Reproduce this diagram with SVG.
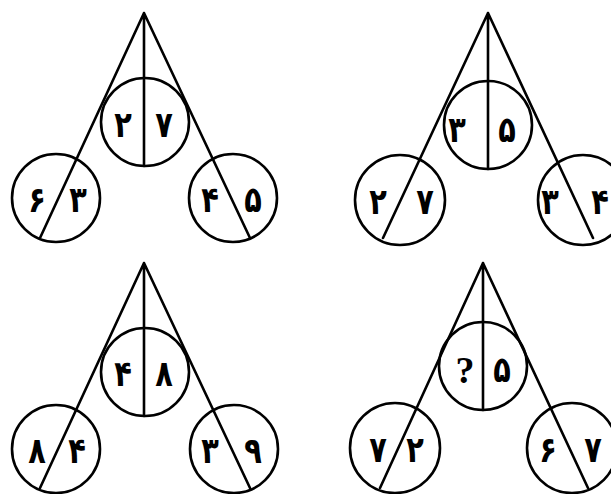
<svg xmlns="http://www.w3.org/2000/svg" width="611" height="494" viewBox="0 0 611 494">
<style>
.n{fill:none;stroke:#000;stroke-width:2.6}
.c{stroke:#000;stroke-width:2.6;fill:none;stroke-linecap:round}
.d{font-family:"DejaVu Sans",sans-serif;font-weight:bold;font-size:36px;text-anchor:middle;fill:#000}
.q{font-family:"Liberation Serif",serif;font-weight:bold;font-size:38px;text-anchor:middle;fill:#000}
</style>
<rect width="611" height="494" fill="#fff"/>
<g id="connectors">
<path class="c" d="M144,13 L144,166 M144,13 L40,238 M144,13 L250,238"/>
<path class="c" d="M488,13 L488,169 M488,13 L383,238 M488,13 L593,238"/>
<path class="c" d="M144,263 L144,416 M144,263 L40,488 M144,263 L250,488"/>
<path class="c" d="M483,263 L483,410 M483,263 L380,488 M483,263 L588,488"/>
</g>
<g id="fig1-top"><circle class="n" cx="145" cy="122" r="44"/><text class="d" transform="translate(123,137) scale(0.8,1)">۲</text><text class="d" transform="translate(164,137) scale(0.8,1)">۷</text></g>
<g id="fig1-left"><circle class="n" cx="56" cy="198" r="44"/><text class="d" transform="translate(37,212) scale(0.8,1)">۶</text><text class="d" transform="translate(78,212) scale(0.8,1)">۳</text></g>
<g id="fig1-right"><circle class="n" cx="233" cy="198" r="44"/><text class="d" transform="translate(210,212) scale(0.8,1)">۴</text><text class="d" transform="translate(253,212) scale(0.8,1)">۵</text></g>
<g id="fig2-top"><circle class="n" cx="488" cy="125" r="44"/><text class="d" transform="translate(457,142) scale(0.8,1)">۳</text><text class="d" transform="translate(507,142) scale(0.8,1)">۵</text></g>
<g id="fig2-left"><circle class="n" cx="400" cy="200" r="45"/><text class="d" transform="translate(378,214) scale(0.8,1)">۲</text><text class="d" transform="translate(425,214) scale(0.8,1)">۷</text></g>
<g id="fig2-right"><circle class="n" cx="583" cy="200" r="45"/><text class="d" transform="translate(550,214) scale(0.8,1)">۳</text><text class="d" transform="translate(600,214) scale(0.8,1)">۴</text></g>
<g id="fig3-top"><circle class="n" cx="145" cy="372" r="44"/><text class="d" transform="translate(123,386) scale(0.8,1)">۴</text><text class="d" transform="translate(164,386) scale(0.8,1)">۸</text></g>
<g id="fig3-left"><circle class="n" cx="56" cy="449" r="44"/><text class="d" transform="translate(37,463) scale(0.8,1)">۸</text><text class="d" transform="translate(77,463) scale(0.8,1)">۴</text></g>
<g id="fig3-right"><circle class="n" cx="234" cy="449" r="44"/><text class="d" transform="translate(210,463) scale(0.8,1)">۳</text><text class="d" transform="translate(253,463) scale(0.8,1)">۹</text></g>
<g id="fig4-top"><circle class="n" cx="483" cy="366" r="44"/><text class="q" x="465" y="383">?</text><text class="d" transform="translate(502,382) scale(0.8,1)">۵</text></g>
<g id="fig4-left"><circle class="n" cx="395" cy="448" r="45"/><text class="d" transform="translate(378,462) scale(0.8,1)">۷</text><text class="d" transform="translate(415,462) scale(0.8,1)">۲</text></g>
<g id="fig4-right"><circle class="n" cx="572" cy="448" r="45"/><text class="d" transform="translate(548,462) scale(0.8,1)">۶</text><text class="d" transform="translate(593,462) scale(0.8,1)">۷</text></g>
</svg>
